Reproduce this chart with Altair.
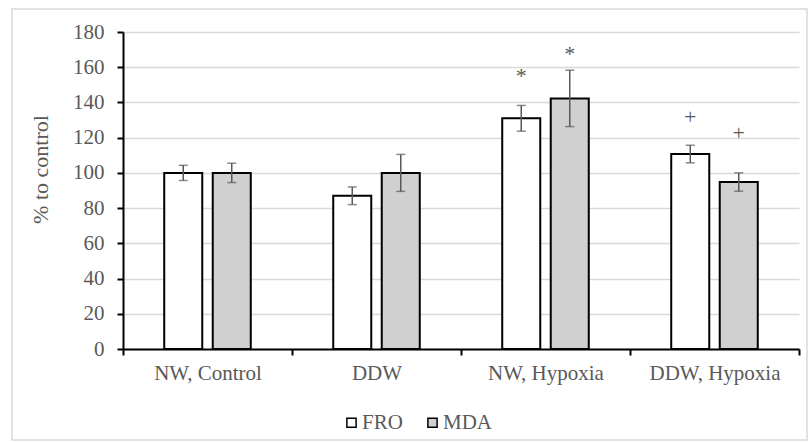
import altair as alt
import pandas as pd

groups = ["NW, Control", "DDW", "NW, Hypoxia", "DDW, Hypoxia"]
series = ["FRO", "MDA"]
fro_values = [100, 87, 131, 110.7]
fro_errors = [4.3, 5.0, 7.3, 5.0]
mda_values = [100, 100, 142.3, 94.8]
mda_errors = [5.5, 10.5, 16.0, 5.2]
fro_marks = ["", "", "*", "+"]
fro_mark_y = [0, 0, 155, 131.5]
mda_marks = ["", "", "*", "+"]
mda_mark_y = [0, 0, 167.5, 122.8]
y_ticks = [0, 20, 40, 60, 80, 100, 120, 140, 160, 180]

rows = []
for s, vals, errs, mks, mys in [
    ("FRO", fro_values, fro_errors, fro_marks, fro_mark_y),
    ("MDA", mda_values, mda_errors, mda_marks, mda_mark_y),
]:
    for g, v, e, m, my in zip(groups, vals, errs, mks, mys):
        rows.append({"group": g, "series": s, "value": v, "lo": v - e, "hi": v + e,
                     "mark": m, "mark_y": my})
df = pd.DataFrame(rows)

FONT = "Liberation Serif, Times New Roman, serif"
GRAY = "#595959"
FS = 21

x_axis = alt.Axis(labelFont=FONT, labelFontSize=FS, labelColor=GRAY,
                  labelAngle=0, labelPadding=7, tickBand="extent",
                  tickColor="black", tickWidth=2, tickSize=6,
                  domainColor="black", domainWidth=2)
y_axis = alt.Axis(values=y_ticks, grid=True, gridColor="#d9d9d9", gridWidth=1.5,
                  domainColor="black", domainWidth=2, tickColor="black",
                  tickWidth=2, tickSize=6, labelPadding=13, labelFont=FONT,
                  labelFontSize=FS, labelColor=GRAY, titleFont=FONT,
                  titleFontSize=FS + 1, titleColor=GRAY, titleFontWeight="normal",
                  titleX=-83, titleY=137, titleAngle=270, titleAlign="center",
                  titleBaseline="middle")
x_scale = alt.Scale(paddingInner=0, paddingOuter=0)
y_scale = alt.Scale(domain=[0, 180], nice=False)
YT = "% to control"


def xe():
    return alt.X("group:N", sort=groups, title=None, scale=x_scale, axis=x_axis)


def ye(field):
    return alt.Y(field, scale=y_scale, title=YT, axis=y_axis)


xo_enc = alt.XOffset("series:N", sort=series,
                     scale=alt.Scale(domain=series, paddingInner=0.216, paddingOuter=0.85))

base = alt.Chart(df)

bars = base.mark_bar(stroke="black", strokeWidth=2).encode(
    x=xe(),
    xOffset=xo_enc,
    y=ye("value:Q"),
    fill=alt.Fill("series:N", sort=series,
                  scale=alt.Scale(domain=series, range=["white", "#d0d0d0"]),
                  legend=alt.Legend(title=None, orient="none", legendX=218, legendY=380,
                                    direction="horizontal", symbolType="square",
                                    symbolSize=85, symbolStrokeColor="black",
                                    symbolStrokeWidth=1.5, labelFont=FONT, labelFontSize=FS,
                                    labelColor=GRAY, columnPadding=19, labelOffset=0)),
)

err_rule = base.mark_rule(color=GRAY, strokeWidth=1.5).encode(
    x=xe(), xOffset=xo_enc, y=ye("lo:Q"), y2="hi:Q",
)
cap_lo = base.mark_tick(color=GRAY, thickness=1.5, size=9, orient="horizontal").encode(
    x=xe(), xOffset=xo_enc, y=ye("lo:Q"),
)
cap_hi = base.mark_tick(color=GRAY, thickness=1.5, size=9, orient="horizontal").encode(
    x=xe(), xOffset=xo_enc, y=ye("hi:Q"),
)
annot = base.transform_filter(alt.datum.mark != "").mark_text(
    font=FONT, fontSize=22, fill=GRAY, baseline="middle", align="center"
).encode(
    x=xe(), xOffset=xo_enc, y=ye("mark_y:Q"), text="mark:N",
)
border = alt.Chart(pd.DataFrame({"a": [0]})).mark_rect(
    fillOpacity=0, stroke="#d9d9d9", strokeWidth=1.5
).encode(
    x=alt.value(-111), x2=alt.value(684), y=alt.value(-23), y2=alt.value(408)
)

chart = alt.layer(border, bars, err_rule, cap_lo, cap_hi, annot).properties(
    width=676, height=317,
    padding={"left": 123, "top": 32, "right": 11, "bottom": 94},
    autosize=alt.AutoSizeParams(type="none"),
    background="white",
).configure_view(strokeWidth=0)

chart.save("out.html", embed_options={"renderer": "svg", "actions": False})
